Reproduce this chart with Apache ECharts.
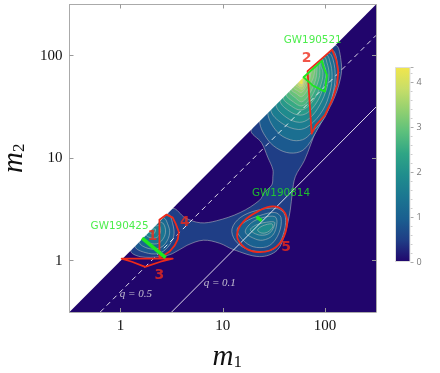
<!DOCTYPE html>
<html>
<head>
<meta charset="utf-8">
<style>html,body{margin:0;padding:0;background:#fff}#main{width:440px;height:373px}</style>
<script src="https://cdn.jsdelivr.net/npm/echarts@6/dist/echarts.min.js"></script>
</head>
<body>
<div id="main"></div>
<script>
// everything below is [log10 m1, log10 m2]
const axisMin = 0.316, axisMax = 316
const tickValues = [1, 10, 100]
const colorbarTop = [4.35]

const outerLevel = 0.5
// the two points with m2 > m1 sit under the white corner, they just keep the fill tight on the diagonal
const outerContour = [[.10,.10],[.19,.04],[.39,.04],[.51,.07],[.65,.15],[.81,.20],[.97,.17],[1.10,.11],[1.36,.04],[1.53,.10],[1.61,.27],[1.66,.49],[1.68,.66],[1.71,.82],[1.80,.98],[1.92,1.28],[2.07,1.54],[2.15,1.77],[2.16,1.93],[2.10,2.10],[1.70,1.80],[1.28,1.28],[1.38,1.15],[1.44,1.01],[1.49,.89],[1.49,.82],[1.48,.74],[1.41,.67],[1.36,.59],[1.17,.47],[.94,.39],[.78,.37],[.63,.42],[.51,.51],[.28,.38]]

const topLevels = [.9, 1.3, 1.6, 1.9, 2.2, 2.5, 2.75, 3, 3.2, 3.4, 3.6, 3.85, 4.3]
const top1 = [[1.36,1.36],[1.44,1.18],[1.56,1.08],[1.69,1.05],[1.80,1.09],[1.91,1.25],[2.00,1.42],[2.06,1.57],[2.12,1.77],[2.12,1.94],[2.06,2.06]]
const top2 = [[1.44,1.44],[1.53,1.26],[1.66,1.18],[1.78,1.18],[1.87,1.25],[2.00,1.40],[2.07,1.60],[2.10,1.79],[2.08,1.96],[2.03,2.03]]
const top3 = [[1.47,1.47],[1.58,1.34],[1.74,1.28],[1.85,1.32],[1.98,1.47],[2.05,1.65],[2.07,1.81],[2.05,1.94],[2.01,2.01]]
const top4 = [[1.52,1.52],[1.62,1.40],[1.75,1.35],[1.85,1.39],[1.95,1.52],[2.02,1.69],[2.04,1.83],[2.02,1.93],[1.99,1.99]]
const top5 = [[1.56,1.56],[1.65,1.46],[1.76,1.42],[1.85,1.46],[1.94,1.58],[1.99,1.72],[2.01,1.84],[1.99,1.92],[1.97,1.97]]
const top6 = [[1.59,1.59],[1.67,1.51],[1.76,1.47],[1.84,1.51],[1.92,1.62],[1.97,1.75],[1.98,1.84],[1.96,1.90],[1.95,1.95]]
const top7 = [[1.62,1.62],[1.69,1.55],[1.77,1.51],[1.84,1.56],[1.90,1.66],[1.94,1.77],[1.95,1.84],[1.93,1.93]]
const top8 = [[1.65,1.65],[1.71,1.59],[1.77,1.55],[1.83,1.60],[1.88,1.69],[1.91,1.77],[1.92,1.84],[1.91,1.91]]
const top9 = [[1.67,1.67],[1.72,1.63],[1.77,1.60],[1.82,1.65],[1.86,1.73],[1.89,1.80],[1.89,1.89]]
const top10 = [[1.69,1.69],[1.73,1.66],[1.77,1.64],[1.81,1.69],[1.85,1.77],[1.86,1.82],[1.87,1.87]]
const top11 = [[1.71,1.71],[1.74,1.69],[1.78,1.67],[1.81,1.73],[1.84,1.79],[1.85,1.85]]
const top12 = [[1.73,1.73],[1.75,1.70],[1.78,1.70],[1.80,1.75],[1.83,1.83]]
const top13 = [[1.74,1.74],[1.78,1.72],[1.79,1.77],[1.81,1.81]]

const leftLevels = [.9, 1.2, 1.45, 1.7, 1.95]
const left1 = [[.14,.14],[.24,.08],[.37,.07],[.46,.13],[.52,.24],[.51,.36],[.46,.46]]
const left2 = [[.18,.18],[.27,.12],[.37,.12],[.44,.17],[.48,.27],[.46,.36],[.42,.42]]
const left3 = [[.22,.22],[.29,.17],[.37,.17],[.42,.22],[.44,.29],[.42,.36],[.38,.38]]
const left4 = [[.25,.25],[.31,.22],[.36,.23],[.39,.28],[.38,.34],[.34,.34]]
const left5 = [[.28,.28],[.32,.26],[.34,.29],[.34,.31],[.31,.31]]

const ringLevels = [.7, 1, 1.3, 1.6, 1.9]
const ring1 = [[1.09,.31],[1.17,.42],[1.33,.49],[1.53,.51],[1.61,.44],[1.59,.25],[1.51,.12],[1.36,.09],[1.22,.12],[1.12,.20]]
const ring2 = [[1.14,.30],[1.22,.38],[1.36,.44],[1.51,.47],[1.57,.42],[1.55,.27],[1.46,.15],[1.33,.13],[1.22,.18]]
const ring3 = [[1.22,.28],[1.28,.37],[1.39,.42],[1.51,.43],[1.53,.37],[1.49,.25],[1.39,.20],[1.30,.22]]
const ring4 = [[1.27,.30],[1.33,.35],[1.46,.38],[1.51,.37],[1.46,.27],[1.36,.25]]
const ring5 = [[1.34,.30],[1.39,.34],[1.48,.36],[1.49,.33],[1.44,.28],[1.38,.27]]

const red2 = [[1.83,1.85],[2.07,2.06],[2.11,1.96],[2.13,1.85],[2.12,1.72],[2.08,1.59],[2.00,1.42],[1.91,1.32],[1.87,1.24]]
const red14 = [[.38,.40],[.45,.45],[.51,.42],[.54,.36],[.57,.28],[.56,.21],[.53,.15],[.48,.09],[.42,.05],[.38,.03]]
const red3 = [[.01,.02],[.51,.02],[.39,-.01],[.24,-.06],[.11,-.01]]
const red5 = [[1.14,.25],[1.20,.38],[1.36,.49],[1.49,.53],[1.59,.49],[1.63,.38],[1.58,.20],[1.46,.10],[1.30,.09],[1.19,.15]]

const green521 = [[1.79,1.79],[1.97,1.95],[1.99,1.88],[2.02,1.81],[2.00,1.65],[1.88,1.71]]
const green425 = [[.21,.22],[.44,.03]]
const green814 = [[1.33,.43],[1.38,.39]]

const qHalf = [[0.632, 0.316], [316, 158]]
const qTenth = [[3.16, 0.316], [316, 31.6]]
const whiteCorner = [[axisMin, axisMin], [axisMin, axisMax], [axisMax, axisMax]]

const greenNames = ['GW190521', 'GW190814', 'GW190425']
const greenPos = [[1.88,2.15],[1.57,.66],[-.01,.34]]
const redNames = ['2', '1', '4', '3', '5']
const redPos = [[1.82,1.97],[.31,.24],[.63,.37],[.38,-.14],[1.62,.13]]
const qNames = ['q = 0.5', 'q = 0.1']
const qPos = [[.15,-.33],[.97,-.22]]

// stops are spaced evenly from 0 to 4.35
const colorStops = ['#21056c', '#1f3d86', '#1a5f90', '#1b7691', '#1f8d8d', '#2fa585', '#5cc07c', '#92d070', '#c8de68', '#f2e64c']
const mass = p => [Math.pow(10, p[0]), Math.pow(10, p[1])]
const colorOf = v => echarts.color.lerp(Math.min(v / colorbarTop[0], 1), colorStops)

const chart = echarts.init(document.getElementById('main'))

const contours = [{ level: outerLevel, pts: outerContour, open: false }]
;[ring1, ring2, ring3, ring4, ring5].forEach((pts, i) => contours.push({ level: ringLevels[i], pts, open: false }))
;[left1, left2, left3, left4, left5].forEach((pts, i) => contours.push({ level: leftLevels[i], pts, open: true }))
;[top1, top2, top3, top4, top5, top6, top7, top8, top9, top10, top11, top12, top13].forEach((pts, i) => contours.push({ level: topLevels[i], pts, open: true }))
contours.forEach(c => { c.pts = c.pts.map(mass) })

function renderContour(params, api) {
  const c = contours[params.dataIndex]
  const points = c.pts.map(p => api.coord(p))
  if (c.open) {
    // close the arc past the diagonal, the white corner hides that part
    const a = points[0]
    const b = points[points.length - 1]
    const d = Math.hypot(a[0] - b[0], a[1] - b[1]) * 0.3 + 4
    points.push([(a[0] + b[0]) / 2 - d, (a[1] + b[1]) / 2 - d])
  }
  return {
    type: 'polygon',
    shape: { points, smooth: 0.35 },
    style: { fill: colorOf(c.level), stroke: 'rgba(190,190,190,0.6)', lineWidth: 0.9 }
  }
}

const outlines = [
  { pts: red2.map(mass), color: '#ee2a1a', width: 1.8, closed: true, smooth: 0 },
  { pts: red14.map(mass), color: '#ee2a1a', width: 1.8, closed: true, smooth: 0 },
  { pts: red3.map(mass), color: '#ee2a1a', width: 1.8, closed: true, smooth: 0 },
  { pts: red5.map(mass), color: '#ee2a1a', width: 1.8, closed: true, smooth: 0.4 },
  { pts: green521.map(mass), color: '#1fe81f', width: 1.8, closed: true, smooth: 0 },
  { pts: green425.map(mass), color: '#1fe81f', width: 3.5, closed: false, smooth: 0 },
  { pts: green814.map(mass), color: '#1fe81f', width: 3.5, closed: false, smooth: 0 }
]

function renderOutline(params, api) {
  const o = outlines[params.dataIndex]
  return {
    type: o.closed ? 'polygon' : 'polyline',
    shape: { points: o.pts.map(p => api.coord(p)), smooth: o.smooth },
    style: { fill: 'none', stroke: o.color, lineWidth: o.width, lineJoin: 'round' }
  }
}

function textSeries(names, pos, label) {
  return {
    type: 'scatter',
    xAxisIndex: 0,
    yAxisIndex: 0,
    symbolSize: 0,
    z: 8,
    silent: true,
    data: names.map((name, i) => ({ name, value: mass(pos[i]) })),
    label: Object.assign({ show: true, position: 'inside', formatter: '{b}' }, label)
  }
}

function logAxis(extra) {
  return Object.assign({
    type: 'log',
    logBase: 10,
    min: axisMin,
    max: axisMax,
    z: 10,
    splitLine: { show: false },
    minorTick: { show: false },
    axisLine: { show: true, onZero: false, lineStyle: { color: '#aaa', width: 1 } },
    axisTick: { show: true, inside: true, length: 4, customValues: tickValues, lineStyle: { color: '#999' } },
    axisLabel: { show: false }
  }, extra)
}

const tickLabel = { show: true, customValues: tickValues, color: '#111', fontFamily: 'Liberation Serif', fontSize: 15, margin: 7 }
const nameRich = {
  m: { fontFamily: 'Liberation Serif', fontStyle: 'italic', fontSize: 29, color: '#111' },
  s: { fontFamily: 'Liberation Serif', fontSize: 17, color: '#111', padding: [10, 0, 0, 0] }
}

chart.setOption({
  animation: false,
  backgroundColor: '#fff',
  grid: [
    { left: 69.5, top: 4.5, width: 306.5, height: 307.5, outerBoundsMode: 'none', show: true, backgroundColor: '#21056c', borderWidth: 0 },
    { left: 395, top: 67, width: 15.5, height: 195, outerBoundsMode: 'none' }
  ],
  xAxis: [
    logAxis({ gridIndex: 0, position: 'bottom', axisLabel: tickLabel, name: '{m|m}{s|1}', nameLocation: 'middle', nameGap: 31, nameTextStyle: { rich: nameRich, padding: [0, 0, 0, 9] } }),
    logAxis({ gridIndex: 0, position: 'top' }),
    { type: 'category', gridIndex: 1, data: [''], axisLine: { show: false }, axisTick: { show: false }, axisLabel: { show: false } }
  ],
  yAxis: [
    logAxis({ gridIndex: 0, position: 'left', axisLabel: tickLabel, name: '{m|m}{s|2}', nameLocation: 'middle', nameGap: 40, nameRotate: 90, nameTextStyle: { rich: nameRich } }),
    logAxis({ gridIndex: 0, position: 'right' }),
    {
      type: 'value',
      gridIndex: 1,
      position: 'right',
      min: 0,
      max: colorbarTop[0],
      interval: 1,
      splitLine: { show: false },
      axisLine: { show: false },
      axisTick: { show: true, length: 3, lineStyle: { color: '#aaa' } },
      minorTick: { show: true, splitNumber: 5, length: 2, lineStyle: { color: '#ccc' } },
      axisLabel: { color: '#777', fontFamily: 'Open Sans', fontSize: 9, margin: 6, showMaxLabel: false }
    }
  ],
  series: [
    {
      type: 'custom',
      xAxisIndex: 0,
      yAxisIndex: 0,
      z: 2,
      silent: true,
      renderItem: renderContour,
      data: contours.map(c => c.pts[0])
    },
    {
      type: 'custom',
      xAxisIndex: 0,
      yAxisIndex: 0,
      z: 3,
      silent: true,
      renderItem: (params, api) => ({
        type: 'polygon',
        shape: { points: whiteCorner.map(p => api.coord(p)) },
        style: { fill: '#fff' }
      }),
      data: [whiteCorner[0]]
    },
    {
      type: 'line',
      xAxisIndex: 0,
      yAxisIndex: 0,
      z: 4,
      silent: true,
      showSymbol: false,
      data: qHalf,
      lineStyle: { color: 'rgba(255,255,255,0.85)', width: 1, type: [5, 4] }
    },
    {
      type: 'line',
      xAxisIndex: 0,
      yAxisIndex: 0,
      z: 4,
      silent: true,
      showSymbol: false,
      data: qTenth,
      lineStyle: { color: 'rgba(255,255,255,0.85)', width: 1 }
    },
    {
      type: 'custom',
      xAxisIndex: 0,
      yAxisIndex: 0,
      z: 5,
      silent: true,
      renderItem: renderOutline,
      data: outlines.map(o => o.pts[0])
    },
    textSeries(greenNames, greenPos, { color: '#1fe81f', fontFamily: 'DejaVu Sans', fontSize: 10.4 }),
    textSeries(redNames, redPos, { color: '#ee2a1a', fontFamily: 'DejaVu Sans', fontWeight: 'bold', fontSize: 14 }),
    textSeries(qNames, qPos, { color: '#e6e6e6', fontFamily: 'Liberation Serif', fontStyle: 'italic', fontSize: 11 }),
    {
      type: 'bar',
      xAxisIndex: 2,
      yAxisIndex: 2,
      barWidth: '100%',
      silent: true,
      data: colorbarTop,
      itemStyle: {
        borderColor: '#ddd',
        borderWidth: 1,
        color: new echarts.graphic.LinearGradient(0, 1, 0, 0, colorStops.map((color, i) => ({ offset: i / (colorStops.length - 1), color })))
      }
    }
  ]
})
</script>
</body>
</html>
